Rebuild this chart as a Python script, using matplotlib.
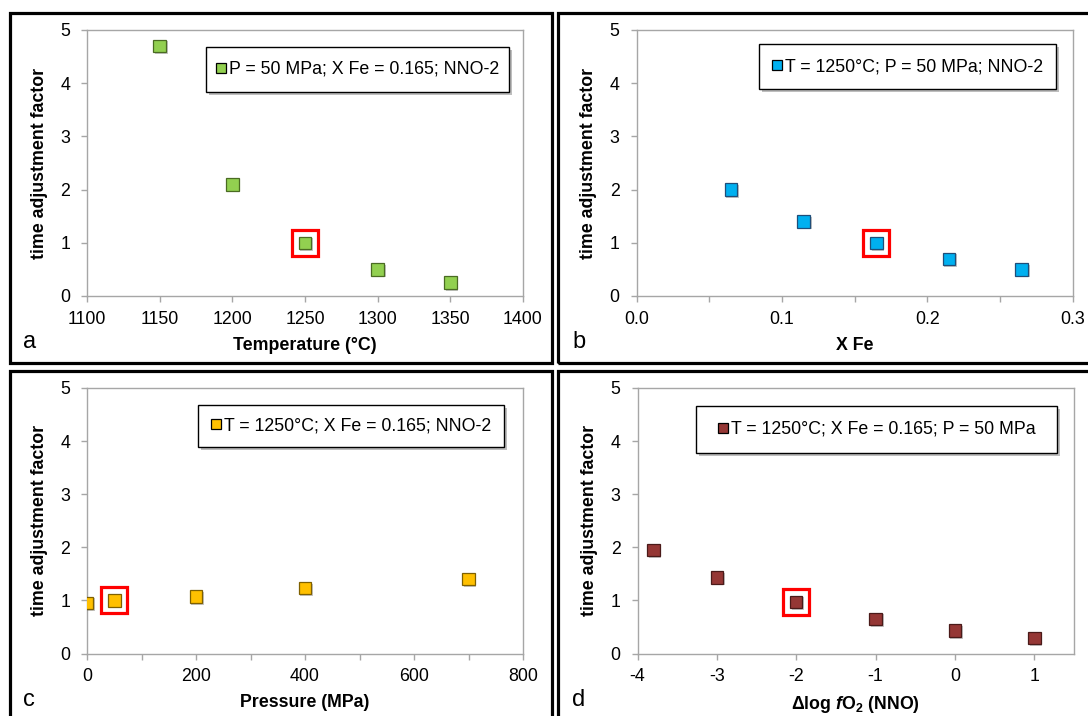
import matplotlib
matplotlib.use("Agg")
import matplotlib.pyplot as plt
import matplotlib.patheffects as pe
from matplotlib.patches import Rectangle
from matplotlib.ticker import MultipleLocator

plt.rcParams['font.family'] = ['Liberation Sans', 'DejaVu Sans']
plt.rcParams['mathtext.fontset'] = 'custom'
plt.rcParams['mathtext.rm'] = 'Liberation Sans:bold'
plt.rcParams['mathtext.it'] = 'Liberation Sans:bold:italic'
plt.rcParams['mathtext.bf'] = 'Liberation Sans:bold'

# === Data ===
temp_c = [1150, 1200, 1250, 1300, 1350]
temp_factor = [4.7, 2.1, 1.0, 0.5, 0.25]

x_fe = [0.065, 0.115, 0.165, 0.215, 0.265]
fe_factor = [2.0, 1.4, 1.0, 0.7, 0.5]

pressure_mpa = [0, 50, 200, 400, 700]
pressure_factor = [0.95, 1.0, 1.07, 1.23, 1.4]

dlog_fo2 = [-3.8, -3, -2, -1, 0, 1]
fo2_factor = [1.95, 1.43, 0.97, 0.65, 0.43, 0.29]

# index of the reference run (1250 C, X Fe 0.165, 50 MPa, NNO-2) in each series
ref_idx = [2, 2, 1, 2]

legend_labels = [
    "P = 50 MPa; X Fe = 0.165; NNO-2",
    "T = 1250°C; P = 50 MPa; NNO-2",
    "T = 1250°C; X Fe = 0.165; NNO-2",
    "T = 1250°C; X Fe = 0.165; P = 50 MPa",
]
x_labels = ["Temperature (°C)", "X Fe", "Pressure (MPa)", r"Δlog $\mathit{f}$O$_2$ (NNO)"]
panel_letters = ["a", "b", "c", "d"]

face_colors = ["#92D050", "#00B0F0", "#FFC000", "#953735"]
edge_colors = ["#4A6B22", "#1F4E79", "#7F6000", "#4A1A19"]

# === Layout (pixels on a 1088 x 716 canvas) ===
W, H = 1088, 716
fig = plt.figure(figsize=(W / 100, H / 100), dpi=100)

axes_px = [(87, 30, 436, 266), (636.5, 30, 436, 266),
           (87, 388, 436, 265.5), (637.5, 388, 436.5, 265.5)]
frames_px = [(9.5, 13.5, 542.5, 350), (558, 13.5, 540, 350),
             (9.5, 371, 542.5, 350), (558, 371, 540, 350)]
legend_px = [(206, 47, 303, 45), (759, 44, 296.5, 45),
             (197.5, 405, 306.5, 42), (695.5, 406, 361.5, 47)]
letter_px = [(23, 348), (572, 348), (23, 706), (572, 706)]

xlims = [(1100, 1400), (0, 0.3), (0, 800), (-4, 1.5)]
xmajor = [50, 0.1, 200, 1]
xminor = [None, 0.05, 100, None]
xfmt = ["{:.0f}", "{:.1f}", "{:.0f}", "{:.0f}"]

xs = [temp_c, x_fe, pressure_mpa, dlog_fo2]
ys = [temp_factor, fe_factor, pressure_factor, fo2_factor]

spine_gray = "#A6A6A6"
shadow = [pe.SimplePatchShadow(offset=(1.2, -1.2), shadow_rgbFace="#808080", alpha=0.45), pe.Normal()]

for i in range(4):
    x0, y0, w, h = axes_px[i]
    ax = fig.add_axes([x0 / W, 1 - (y0 + h) / H, w / W, h / H])

    ax.plot(xs[i], ys[i], linestyle="none", marker="s", markersize=9,
            markerfacecolor=face_colors[i], markeredgecolor=edge_colors[i],
            markeredgewidth=0.9, path_effects=shadow, zorder=3)

    # red box around the reference run
    j = ref_idx[i]
    ax.plot([xs[i][j]], [ys[i][j]], linestyle="none", marker="s", markersize=18.5,
            markerfacecolor="none", markeredgecolor="#FF0000", markeredgewidth=2.3, zorder=4)

    ax.set_xlim(*xlims[i])
    ax.set_ylim(0, 5)
    ax.xaxis.set_major_locator(MultipleLocator(xmajor[i]))
    if xminor[i]:
        ax.xaxis.set_minor_locator(MultipleLocator(xminor[i]))
    ax.yaxis.set_major_locator(MultipleLocator(1))
    fmt = xfmt[i]
    ax.xaxis.set_major_formatter(matplotlib.ticker.FuncFormatter(lambda v, p, f=fmt: f.format(v)))

    for s in ax.spines.values():
        s.set_color(spine_gray)
        s.set_linewidth(1.0)
    ax.tick_params(which="both", direction="out", color=spine_gray, width=1.0,
                   labelsize=12.8, labelcolor="#000000")
    ax.tick_params(which="major", length=4.2)
    ax.tick_params(which="minor", length=4.2)
    ax.tick_params(axis="x", pad=6.5)
    ax.tick_params(axis="y", pad=8)

    ax.set_xlabel(x_labels[i], fontsize=12.8, fontweight="bold", labelpad=6.5)
    ax.set_ylabel("time adjustment factor", fontsize=12.8, fontweight="bold", labelpad=9)

    # legend box with drop shadow
    lx, ly, lw, lh = legend_px[i]
    box = Rectangle((lx / W, 1 - (ly + lh) / H), lw / W, lh / H, transform=fig.transFigure,
                    facecolor="white", edgecolor="#000000", linewidth=1.0, zorder=5,
                    path_effects=[pe.SimplePatchShadow(offset=(2.5, -2.5), shadow_rgbFace="#7F7F7F", alpha=0.5),
                                  pe.Normal()])
    fig.add_artist(box)
    handle = plt.Line2D([], [], linestyle="none", marker="s", markersize=7.2,
                        markerfacecolor=face_colors[i], markeredgecolor="#000000", markeredgewidth=0.9)
    leg = fig.legend([handle], [legend_labels[i]], loc="center",
                     bbox_to_anchor=((lx + lw / 2) / W, 1 - (ly + lh / 2) / H),
                     frameon=False, fontsize=12.8, handlelength=0.6, handletextpad=0.15,
                     borderpad=0.2, borderaxespad=0)
    leg.set_zorder(6)

    # panel frame and letter
    fx, fy, fw, fh = frames_px[i]
    fig.add_artist(Rectangle((fx / W, 1 - (fy + fh) / H), fw / W, fh / H, transform=fig.transFigure,
                             facecolor="none", edgecolor="#000000", linewidth=2.3, zorder=10))
    tx, ty = letter_px[i]
    fig.text(tx / W, 1 - ty / H, panel_letters[i], fontsize=17, ha="left", va="baseline")

fig.savefig("out.png", dpi=100)
